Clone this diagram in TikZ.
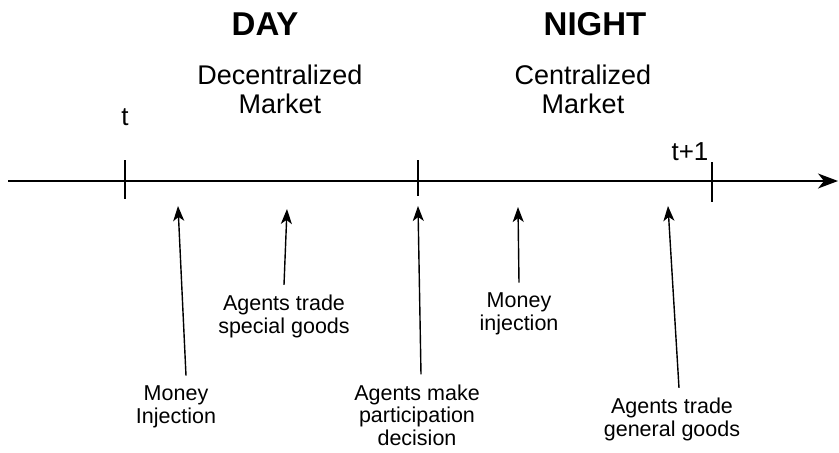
\documentclass[tikz,border=0pt]{standalone}
\usepackage{fontspec}
\setmainfont{Liberation Sans}
\usetikzlibrary{arrows.meta}
\begin{document}
\begin{tikzpicture}[x=1pt,y=-1pt,>={Stealth[length=15pt,width=11pt,inset=4pt]},
  evt/.style={align=center,inner sep=0pt,outer ysep=10pt,font=\fontsize{21.5}{22.5}\selectfont},
  mkt/.style={align=center,inner sep=0pt,font=\fontsize{27}{29}\selectfont},
  hdr/.style={inner sep=0pt,font=\fontsize{33}{36}\selectfont\bfseries},
  tck/.style={inner sep=0pt,font=\fontsize{26}{28}\selectfont}]
\useasboundingbox (0,0) rectangle (839,453);
% time line and ticks
\coordinate (start) at (8,181);
\coordinate (end) at (838,181);
\draw[-{Stealth[length=20pt,width=15pt,inset=6pt]},line width=1.3pt] (start) -- (end);
\draw[line width=1.3pt] (125,160) -- (125,199);
\draw[line width=1.3pt] (418,160) -- (418,196);
\draw[line width=1.3pt] (712,162) -- (712,202);
% headings
\node[hdr,anchor=base] (day) at (265,35) {DAY};
\node[hdr,anchor=base] (night) at (595,35) {NIGHT};
\node[mkt,anchor=base] (dm) at (280,113) {Decentralized\\Market};
\node[mkt,anchor=base] (cm) at (583,113) {Centralized\\Market};
\node[tck,anchor=base] (t0) at (125,125) {t};
\node[tck,anchor=base] (t1) at (690,160) {t+1};
% events
\node[evt,anchor=base] (inj) at (176,423) {Money\\Injection};
\node[evt,anchor=base] (spg) at (284,333) {Agents trade\\special goods};
\node[evt,anchor=base] (dec) at (417,445) {Agents make\\participation\\decision};
\node[evt,anchor=base] (inj2) at (519,330) {Money\\injection};
\node[evt,anchor=base] (gen) at (672,436) {Agents trade\\general goods};
\coordinate (a1) at (178,206);
\coordinate (a2) at (287,209);
\coordinate (a3) at (418,206);
\coordinate (a4) at (518,207);
\coordinate (a5) at (668,206);
\draw[->,line width=1.4pt] ([xshift=10pt]inj.north) -- (a1);
\draw[->,line width=1.4pt] (spg.north) -- (a2);
\draw[->,line width=1.4pt] ([xshift=4pt]dec.north) -- (a3);
\draw[->,line width=1.4pt] (inj2.north) -- (a4);
\draw[->,line width=1.4pt] ([xshift=7pt]gen.north) -- (a5);
\end{tikzpicture}
\end{document}
